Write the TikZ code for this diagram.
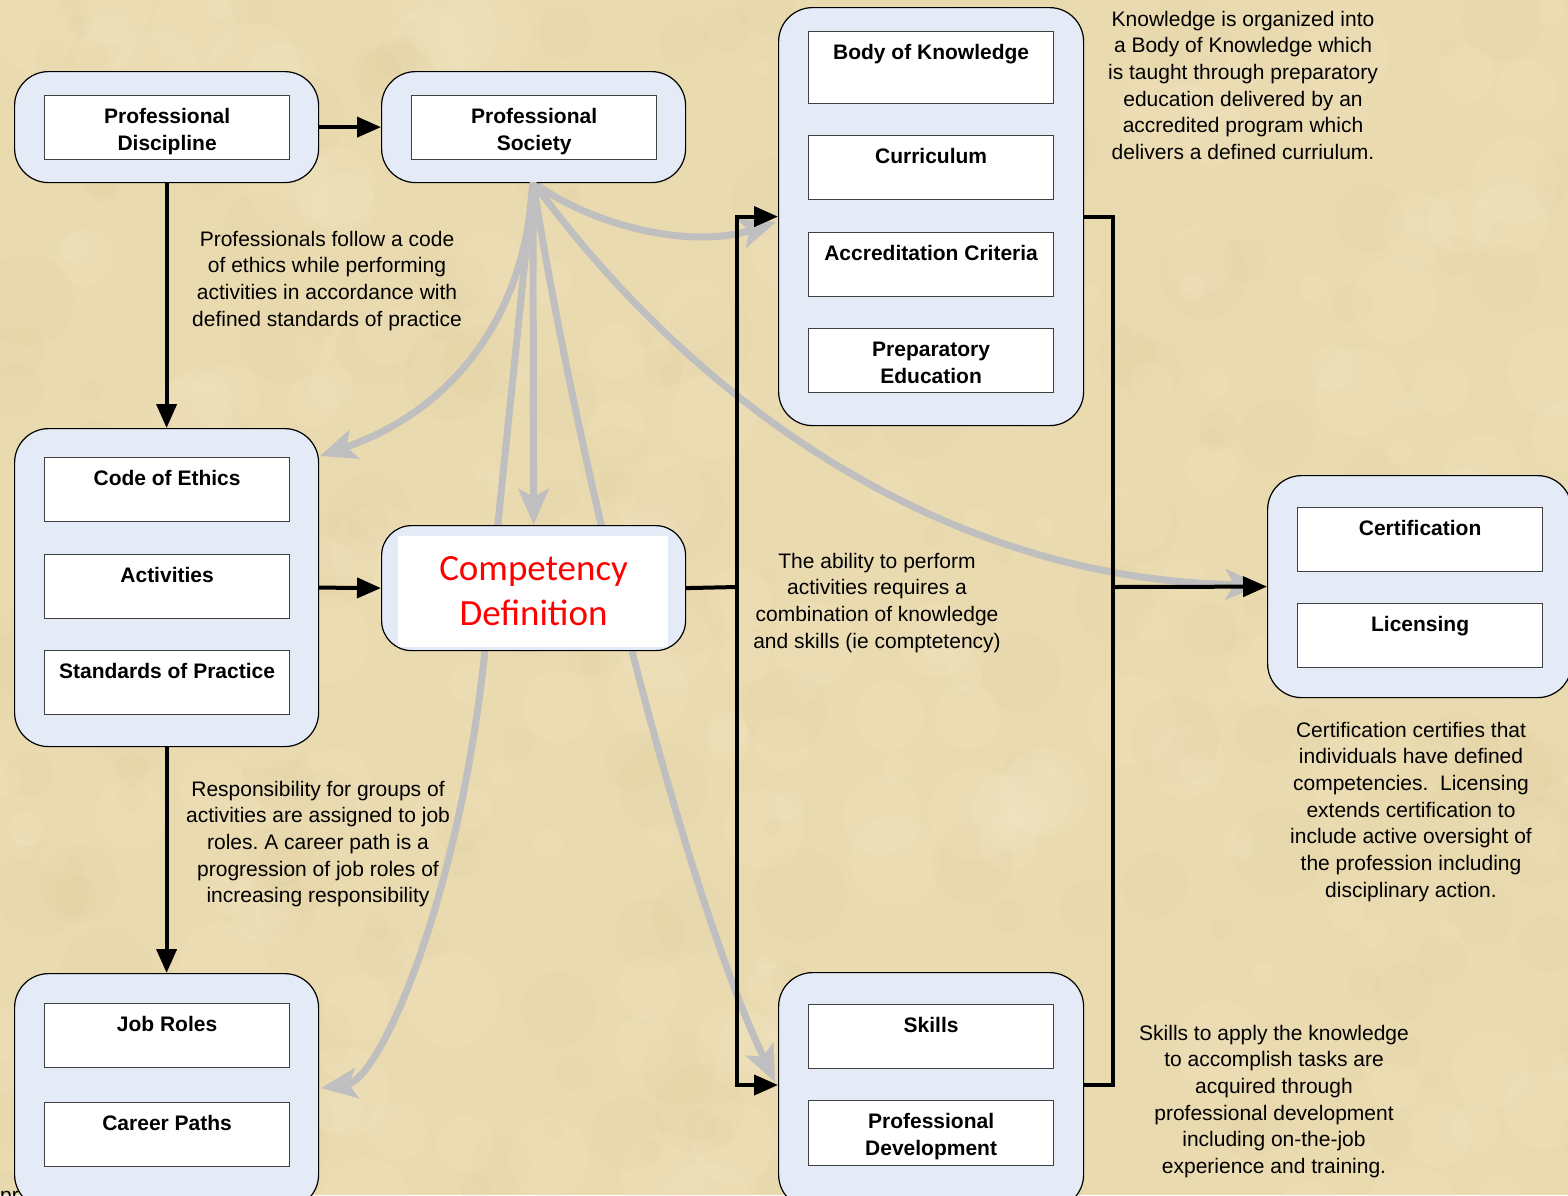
\documentclass[tikz,border=0pt]{standalone}
\usepackage{fontspec}
\setmainfont{Liberation Sans}
\newfontfamily\calib{Carlito}
\usetikzlibrary{arrows.meta,calc}
\frenchspacing
\definecolor{parch}{RGB}{234,218,176}
\definecolor{parchL}{RGB}{246,234,204}
\definecolor{parchD}{RGB}{214,192,140}
\definecolor{grpfill}{RGB}{228,235,247}
\definecolor{greyarr}{RGB}{191,191,191}
\begin{document}
\begin{tikzpicture}[x=1pt,y=-1pt,
 grp/.style={draw=black, line width=1.2pt, fill=grpfill, rounded corners=34pt, anchor=north west, inner sep=0},
 itembox/.style={draw=black!75, line width=1.2pt, fill=white, anchor=north west, minimum width=245pt, minimum height=64pt, inner sep=0},
 itemlbl/.style={font=\fontsize{21}{27}\selectfont\bfseries, align=center, anchor=base, inner sep=0},
 note/.style={font=\fontsize{21}{26.7}\selectfont, align=center, anchor=base, inner sep=0},
 blk/.style={line width=4pt, draw=black},
 blkarr/.style={blk, -{Triangle[length=24pt,width=20pt]}},
 gry/.style={line width=7pt, draw=greyarr, line join=round, -{Stealth[length=36pt,width=30pt,inset=8pt]}},
]
\useasboundingbox (0,0) rectangle (1568,1195);
\clip (0,0) rectangle (1568,1195);
\fill[parch] (0,0) rectangle (1568,1195);
% parchment texture (subtle mottling)
\pgfmathsetseed{4242}
\foreach \i in {1,...,420} {
  \pgfmathsetmacro{\xx}{rnd*1600}
  \pgfmathsetmacro{\yy}{rnd*1230}
  \pgfmathsetmacro{\rr}{8+rnd*40}
  \pgfmathsetmacro{\cc}{rnd}
  \ifdim\cc pt<0.5pt
    \fill[parchL, opacity=0.16] (\xx,\yy) circle[radius=\rr pt];
  \else
    \fill[parchD, opacity=0.07] (\xx,\yy) circle[radius=\rr pt];
  \fi
}

% tip coordinates
\coordinate (ceTip) at (320,456);
\coordinate (jrTip) at (321,1088);
\coordinate (skTip) at (775,1082);
\coordinate (bkTip) at (776,222);
\coordinate (ctTip) at (1262,585);
\coordinate (psOut) at (533,182);

% grey influence arrows (behind boxes)
\draw[gry] (psOut) .. controls (525,330) and (440,415) .. (ceTip);
\draw[gry] (psOut) -- (485,650) .. controls (459,900) and (380,1080) .. (jrTip);
\draw[gry] (psOut) .. controls (575,450) and (680,880) .. (skTip);
\draw[gry] (psOut) .. controls (590,225) and (690,250) .. (bkTip);
\draw[gry] (psOut) .. controls (700,410) and (950,580) .. (ctTip);

% groups
\node[grp, minimum width=304pt, minimum height=111pt] (pdG) at (14,71) {};
\node[grp, minimum width=304pt, minimum height=111pt] (psG) at (381,71) {};
\node[grp, minimum width=305pt, minimum height=418pt] (bokG) at (778,7) {};
\node[grp, minimum width=304pt, minimum height=318pt] (ceG) at (14,428) {};
\node[grp, rounded corners=30pt, minimum width=304pt, minimum height=125pt] (compG) at (381,525) {};
\node[grp, minimum width=304pt, minimum height=222pt] (certG) at (1267,475) {};
\node[grp, minimum width=304pt, minimum height=235pt] (jrG) at (14,973) {};
\node[grp, minimum width=305pt, minimum height=236pt] (skG) at (778,972) {};

\draw[gry] (psOut) -- (compG.north);

% inner boxes
\node[itembox] (pdI) at (44,95) {};
\node[itembox] (psI) at (411,95) {};
\node[itembox, minimum height=72pt] (bokI1) at (808,31) {};
\node[itembox] (bokI2) at (808,135) {};
\node[itembox] (bokI3) at (808,232) {};
\node[itembox] (bokI4) at (808,328) {};
\node[itembox] (ceI1) at (44,457) {};
\node[itembox] (ceI2) at (44,554) {};
\node[itembox] (ceI3) at (44,650) {};
\node[itembox] (certI1) at (1297,507) {};
\node[itembox] (certI2) at (1297,603) {};
\node[itembox] (jrI1) at (44,1003) {};
\node[itembox] (jrI2) at (44,1102) {};
\node[itembox] (skI1) at (808,1004) {};
\node[itembox, minimum height=65pt] (skI2) at (808,1100) {};
\node[fill=white, anchor=north west, minimum width=270pt, minimum height=111pt, inner sep=0] (compW) at (398,536) {};

% labels (anchor base = baseline of the last line)
\node[itemlbl] (pdT) at ([yshift=-55.5pt]pdI.north) {Professional\\Discipline};
\node[itemlbl] (psT) at ([yshift=-55.5pt]psI.north) {Professional\\Society};
\node[itemlbl] (bokT1) at ([yshift=-28.5pt]bokI1.north) {Body of Knowledge};
\node[itemlbl] (bokT2) at ([yshift=-28.5pt]bokI2.north) {Curriculum};
\node[itemlbl] (bokT3) at ([yshift=-28.5pt]bokI3.north) {Accreditation Criteria};
\node[itemlbl] (bokT4) at ([yshift=-55.5pt]bokI4.north) {Preparatory\\Education};
\node[itemlbl] (ceT1) at ([yshift=-28.5pt]ceI1.north) {Code of Ethics};
\node[itemlbl] (ceT2) at ([yshift=-28.5pt]ceI2.north) {Activities};
\node[itemlbl] (ceT3) at ([yshift=-28.5pt]ceI3.north) {Standards of Practice};
\node[itemlbl] (certT1) at ([yshift=-28.5pt]certI1.north) {Certification};
\node[itemlbl] (certT2) at ([yshift=-28.5pt]certI2.north) {Licensing};
\node[itemlbl] (jrT1) at ([yshift=-28.5pt]jrI1.north) {Job Roles};
\node[itemlbl] (jrT2) at ([yshift=-28.5pt]jrI2.north) {Career Paths};
\node[itemlbl] (skT1) at ([yshift=-28.5pt]skI1.north) {Skills};
\node[itemlbl] (skT2) at ([yshift=-55.5pt]skI2.north) {Professional\\Development};
\node[font=\calib\fontsize{37}{45}\selectfont, text=red, align=center, anchor=base, inner sep=0] (compT) at ([yshift=-100pt]compG.north) {Competency\\Definition};

% black connectors
\coordinate (busM) at (737,587);
\coordinate (skIn) at (778,1085);
\coordinate (skOut) at (1083,1085);
\coordinate (rbM) at (1113,587);
\draw[blkarr] (pdG.east) -- (psG.west);
\draw[blkarr] (pdG.south) -- (ceG.north);
\draw[blkarr] (ceG.east) -- (compG.west);
\draw[blkarr] (ceG.south) -- (jrG.north);
\draw[blk] (compG.east) -- (busM);
\draw[blkarr] (busM) |- (bokG.west);
\draw[blkarr] (busM) |- (skIn);
\draw[blk] (bokG.east) -| (rbM);
\draw[blk] (skOut) -| (rbM);
\draw[blkarr] (rbM) -- (certG.west);

% notes (anchor base = baseline of the last line)
\node[note] (n1) at (327,326.1) {Professionals follow a code\\of ethics while performing\\activities in accordance with\\defined standards of practice};
\node[note] (n2) at (318,902.8) {Responsibility for groups of\\activities are assigned to job\\roles. A career path is a\\progression of job roles of\\increasing responsibility};
\node[note] (n3) at (877,648.1) {The ability to perform\\activities requires a\\combination of knowledge\\and skills (ie comptetency)};
\node[note] (n4) at (1243,159.5) {Knowledge is organized into\\a Body of Knowledge which\\is taught through preparatory\\education delivered by an\\accredited program which\\delivers a defined curriulum.};
\node[note] (n5) at (1411,897.2) {Certification certifies that\\individuals have defined\\competencies.\ \ Licensing\\extends certification to\\include active oversight of\\the profession including\\disciplinary action.};
\node[note] (n6) at (1274,1173.5) {Skills to apply the knowledge\\to accomplish tasks are\\acquired through\\professional development\\including on-the-job\\experience and training.};
\node[note, anchor=base west] (prFrag) at (0,1202) {pr};
\end{tikzpicture}
\end{document}
